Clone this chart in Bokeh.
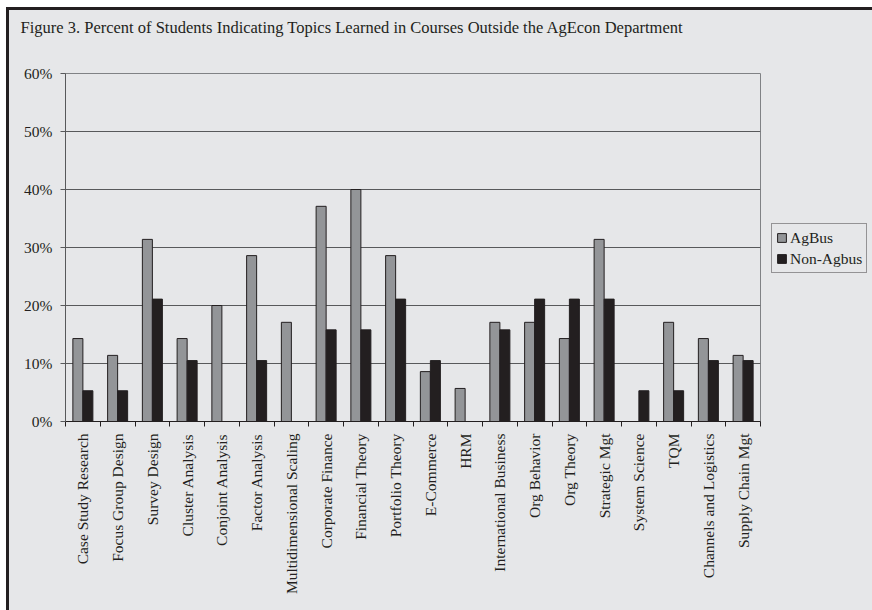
import math
from bokeh.plotting import figure
from bokeh.layouts import column, row
from bokeh.models import (ColumnDataSource, FixedTicker, PrintfTickFormatter, Range1d,
                          Legend, LegendItem, Label)
from bokeh.embed import file_html
from bokeh.resources import INLINE

# Topics and the share of each student group (percent) reporting them
topics = [
    "Case Study Research", "Focus Group Design", "Survey Design", "Cluster Analysis",
    "Conjoint Analysis", "Factor Analysis", "Multidimensional Scaling", "Corporate Finance",
    "Financial Theory", "Portfolio Theory", "E-Commerce", "HRM", "International Business",
    "Org Behavior", "Org Theory", "Strategic Mgt", "System Science", "TQM",
    "Channels and Logistics", "Supply Chain Mgt",
]
agbus = [14.3, 11.4, 31.4, 14.3, 20.0, 28.6, 17.1, 37.1, 40.0, 28.6,
         8.6, 5.7, 17.1, 17.1, 14.3, 31.4, 0.0, 17.1, 14.3, 11.4]
non_agbus = [5.3, 5.3, 21.1, 10.5, 0.0, 10.5, 0.0, 15.8, 15.8, 21.1,
             10.5, 0.0, 15.8, 21.1, 21.1, 21.1, 5.3, 5.3, 10.5, 10.5]
y_ticks = [0, 10, 20, 30, 40, 50, 60]
series = ["AgBus", "Non-Agbus"]
title_text = ("Figure 3. Percent of Students Indicating Topics Learned in Courses "
              "Outside the AgEcon Department")

FONT = "Liberation Serif"
FS = "15.5px"
BG = "#e6e7e9"
INK = "#231f20"
GRAY_BAR = "#939598"
GRID = "#58595b"


def blank(width, height, x_range=(0, 1), **kw):
    """A bare canvas with no axes, grid or border, used for title and key."""
    f = figure(width=width, height=height, output_backend="svg", toolbar_location=None,
               x_range=Range1d(*x_range), y_range=Range1d(0, 1),
               x_axis_type=None, y_axis_type=None, **kw)
    f.background_fill_color = BG
    f.border_fill_color = BG
    f.outline_line_color = None
    f.grid.visible = False
    return f


# ---- title strip ----
head = blank(863, 50, min_border=0)
head.add_layout(Label(x=11, y=33, x_units="screen", y_units="screen",
                      text=title_text, text_font=FONT, text_font_size="16.5px",
                      text_color=INK, text_baseline="alphabetic", text_align="left"))

# ---- bar chart ----
n = len(topics)
centers = [i + 0.5 for i in range(n)]
offset = 0.144
bar_w = 0.288

src = ColumnDataSource(dict(
    xa=[c - offset for c in centers],
    xn=[c + offset for c in centers],
    agbus=agbus,
    non_agbus=non_agbus,
))

p = figure(width=752, height=550, output_backend="svg", toolbar_location=None,
           x_range=Range1d(0, n), y_range=Range1d(0, 60),
           min_border_left=56, min_border_right=1, min_border_top=13, min_border_bottom=189)
p.background_fill_color = BG
p.border_fill_color = BG
p.outline_line_color = "#808285"
p.outline_line_width = 1

bar_a = dict(fill_color=GRAY_BAR, line_color=INK, line_width=1)
bar_n = dict(fill_color=INK, line_color=INK, line_width=1)
p.vbar(x="xa", top="agbus", width=bar_w, source=src, **bar_a)
p.vbar(x="xn", top="non_agbus", width=bar_w, source=src, **bar_n)

p.xgrid.visible = False
p.ygrid.grid_line_color = GRID
p.ygrid.grid_line_width = 1
p.ygrid.ticker = FixedTicker(ticks=y_ticks)

p.yaxis.ticker = FixedTicker(ticks=y_ticks)
p.yaxis.formatter = PrintfTickFormatter(format="%d%%")
p.yaxis.major_tick_out = 5
p.yaxis.major_tick_in = 0
p.yaxis.minor_tick_line_color = None
p.yaxis.axis_line_color = GRID
p.yaxis.major_tick_line_color = GRID
p.yaxis.major_label_standoff = 8
p.yaxis.major_label_text_font = FONT
p.yaxis.major_label_text_font_size = FS
p.yaxis.major_label_text_color = INK

# labels sit at category centres, tick marks at category boundaries
p.xaxis.ticker = FixedTicker(ticks=centers, minor_ticks=list(range(n + 1)))
p.xaxis.major_label_overrides = {c: t for c, t in zip(centers, topics)}
p.xaxis.major_label_orientation = math.pi / 2
p.xaxis.major_tick_out = 0
p.xaxis.major_tick_in = 0
p.xaxis.minor_tick_out = 5
p.xaxis.minor_tick_in = 0
p.xaxis.minor_tick_line_color = INK
p.xaxis.axis_line_color = INK
p.xaxis.major_label_standoff = 7
p.xaxis.major_label_text_font = FONT
p.xaxis.major_label_text_font_size = FS
p.xaxis.major_label_text_color = INK

# ---- key: same series and styles, view window kept away from the data ----
key = blank(111, 550, x_range=(-10, -9), min_border_left=0, min_border_right=0,
            min_border_top=13, min_border_bottom=189)
ka = key.vbar(x="xa", top="agbus", width=bar_w, source=src, **bar_a)
kn = key.vbar(x="xn", top="non_agbus", width=bar_w, source=src, **bar_n)
legend = Legend(items=[LegendItem(label=series[0], renderers=[ka]),
                       LegendItem(label=series[1], renderers=[kn])],
                location=(10, 148), orientation="vertical",
                padding=4, spacing=2, margin=0,
                glyph_width=11, glyph_height=11, label_height=19, label_standoff=3,
                label_text_font=FONT, label_text_font_size=FS, label_text_color=INK,
                background_fill_color=BG, background_fill_alpha=1,
                border_line_color="#414042", border_line_width=1)
key.add_layout(legend, "center")

page = column(head, row(p, key, spacing=0), spacing=0,
              styles={"margin-left": "9px", "margin-top": "10px",
                      "box-shadow": "-1.5px -1.5px 0 1.5px #231f20",
                      "background-color": BG})

open("out.html", "w").write(file_html(page, INLINE))
